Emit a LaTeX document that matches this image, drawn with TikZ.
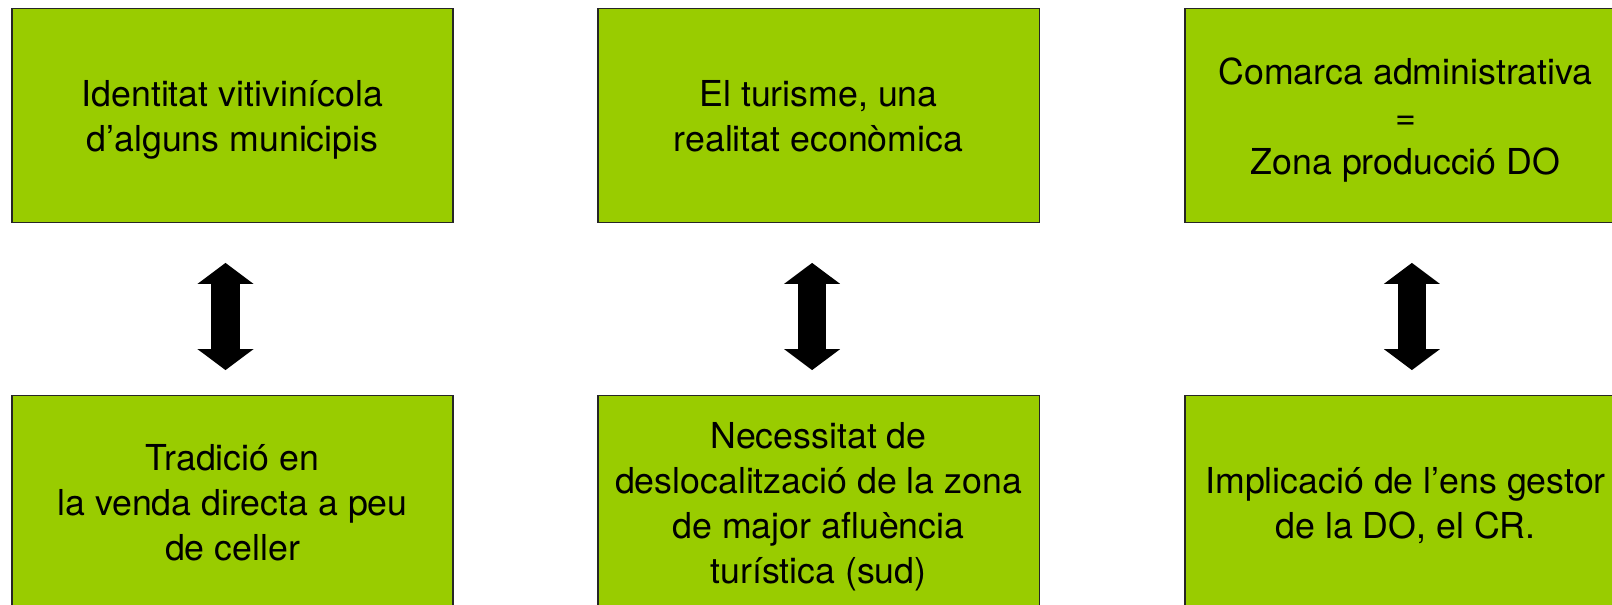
\documentclass[tikz,border=0pt]{standalone}
\usepackage{fontspec}
\setmainfont{TeX Gyre Heros}
\usetikzlibrary{arrows.meta}
\definecolor{vigreen}{HTML}{99CC00}

\begin{document}
\begin{tikzpicture}[x=0.025cm,y=-0.025cm,
    caixa/.style={draw=black!85, line width=0.8pt, fill=vigreen,
      minimum width=11.025cm, minimum height=5.35cm, inner sep=0pt,
      align=center, text depth=0pt, font=\fontsize{25.4pt}{32pt}\selectfont},
    fletxa/.style={line width=0.7cm,
      {Triangle[width=1.375cm,length=0.525cm]}-{Triangle[width=1.375cm,length=0.525cm]},
      shorten <=0.9875cm, shorten >=0.625cm}]
      \useasboundingbox (0, 0) rectangle (1612, 605);
      \clip (0, 0) rectangle (1612, 605);

      \node[caixa] (t1) at (232.5, 115.8) {Identitat vitivinícola\\d’alguns municipis};
      \node[caixa] (t2) at (818.5, 115.8) {El turisme, una\\realitat econòmica};
      \node[caixa] (t3) at (1405.5, 115.8) {Comarca administrativa\\=\\Zona producció DO};

      \node[caixa] (b1) at (232.5, 502.7) {Tradició en\\la venda directa a peu\\de celler};
      \node[caixa] (b2) at (818.5, 502.7) {Necessitat de\\deslocalització de la zona\\de major afluència\\turística (sud)};
      \node[caixa] (b3) at (1405.5, 502.7) {Implicació de l’ens gestor\\de la DO, el CR.};

      % 矢印
      \draw[fletxa] ([xshift=-0.175cm]t1.south) -- ([xshift=-0.175cm]b1.north);
      \draw[fletxa] ([xshift=-0.16cm]t2.south) -- ([xshift=-0.16cm]b2.north);
      \draw[fletxa] ([xshift=0.16cm]t3.south) -- ([xshift=0.16cm]b3.north);
  \end{tikzpicture}
\end{document}
